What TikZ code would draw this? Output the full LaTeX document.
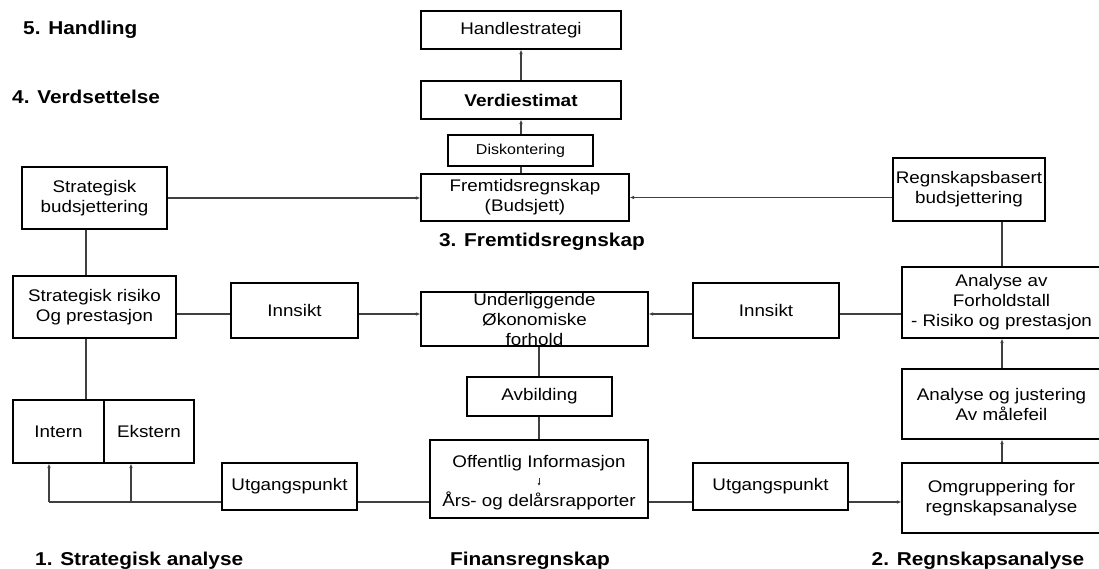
\documentclass[tikz,border=0pt]{standalone}
\usepackage{fontspec}
\setmainfont{Liberation Sans}[FakeStretch=1.12]
\usetikzlibrary{arrows.meta}
\begin{document}
\begin{tikzpicture}[x=1pt,y=-1pt,
  txt/.style={font=\fontsize{16.8}{20}\selectfont},
  box/.style={draw=black, line width=1.1pt, inner sep=0pt, align=center, txt},
  heading/.style={font=\bfseries\fontsize{18.6}{22}\selectfont, inner sep=0pt},
  conn/.style={draw=black!75, line width=1.3pt},
  tip/.style={conn, -{Latex[length=4.5pt,width=3.6pt]}}
]
\useasboundingbox (0,0) rectangle (1099,569);

% guide lines for connector rows and columns
\coordinate (xL) at (86,0);
\coordinate (xM) at (521,0);
\coordinate (xU) at (539,0);
\coordinate (xR) at (1002,0);
\coordinate (y314) at (0,314);
\coordinate (y502) at (0,502);

% phase headings
\node[heading, anchor=base west] (h5) at (23,34.5) {5. Handling};
\node[heading, anchor=base west] (h4) at (12,104) {4. Verdsettelse};
\node[heading, anchor=base] (h3) at (542,246.5) {3. Fremtidsregnskap};
\node[heading, anchor=base west] (h1) at (35,565) {1. Strategisk analyse};
\node[heading, anchor=base] (hf) at (530,565) {Finansregnskap};
\node[heading, anchor=base] (h2) at (978,565) {2. Regnskapsanalyse};

% valuation column
\node[box, minimum width=200, minimum height=38] (hand) at (521,30) {Handlestrategi};
\node[box, minimum width=200, minimum height=38, font=\bfseries\fontsize{17}{20}\selectfont] (verdi) at (521,100) {Verdiestimat};
\node[box, minimum width=145, minimum height=31, font=\fontsize{14.3}{17}\selectfont] (disk) at (520.5,150.5) {Diskontering};
\node[box, minimum width=208, minimum height=47] (frem) at (525,197.5) {Fremtidsregnskap\\(Budsjett)};

% strategic side
\node[box, minimum width=145, minimum height=62] (sbud) at (94.5,198) {Strategisk\\budsjettering};
\node[box, minimum width=163, minimum height=62] (srisk) at (94.5,307) {Strategisk risiko\\Og prestasjon};
\node[box, minimum width=127, minimum height=55] (innL) at (294.5,310.5) {Innsikt};
\node[box, minimum width=91, minimum height=63] (intern) at (58.5,431.5) {Intern};
\node[box, minimum width=90, minimum height=63] (ekstern) at (149,431.5) {Ekstern};
\node[box, minimum width=135, minimum height=47] (utgL) at (289.5,486.5) {Utgangspunkt};

% centre column
\node[box, minimum width=227, minimum height=54,
  label={[txt, align=center, inner sep=0pt]center:Underliggende\\Økonomiske\\forhold}] (und) at (534.5,319) {};
\node[box, minimum width=145, minimum height=39] (avb) at (539.5,396.5) {Avbilding};
\node[box, minimum width=218, minimum height=78,
  label={[txt, align=center, inner sep=0pt, yshift=-3.5pt]center:Offentlig Informasjon\\[19pt]Års- og delårsrapporter}] (off) at (539,479) {};

% accounting side
\node[box, minimum width=152, minimum height=63] (regb) at (969,189.5) {Regnskapsbasert\\budsjettering};
\node[box, minimum width=146, minimum height=55] (innR) at (766,310.5) {Innsikt};
\node[box, minimum width=199, minimum height=71] (aforh) at (1001.5,302.5) {Analyse av\\Forholdstall\\- Risiko og prestasjon};
\node[box, minimum width=199, minimum height=70] (ajust) at (1001.5,404) {Analyse og justering\\Av målefeil};
\node[box, minimum width=155, minimum height=47] (utgR) at (770.5,486.5) {Utgangspunkt};
\node[box, minimum width=199, minimum height=70] (omgr) at (1001.5,498) {Omgruppering for\\regnskapsanalyse};

% valuation chain
\draw[conn] (xM |- frem.north) -- (xM |- disk.south);
\draw[tip] (xM |- disk.north) -- (xM |- verdi.south);
\draw[tip] (xM |- verdi.north) -- (xM |- hand.south);

% budgeting into the forecast
\draw[tip] (sbud.east) -- (sbud.east -| frem.west);
\draw[tip] (regb.west |- frem.east) -- (frem.east);

% strategic analysis chain
\draw[conn] (xL |- sbud.south) -- (xL |- srisk.north);
\draw[conn] (xL |- srisk.south) -- (xL |- intern.north);
\draw[conn] (srisk.east |- y314) -- (innL.west |- y314);
\draw[tip] (innL.east |- y314) -- (und.west |- y314);

% accounting analysis chain
\draw[conn] (xR |- regb.south) -- (xR |- aforh.north);
\draw[conn] (aforh.west |- y314) -- (innR.east |- y314);
\draw[tip] (innR.west |- y314) -- (und.east |- y314);
\draw[tip] (xR |- ajust.north) -- (xR |- aforh.south);
\draw[tip] (xR |- omgr.north) -- (xR |- ajust.south);

% representation of the economy in public information
\draw[conn] (xU |- und.south) -- (xU |- avb.north);
\draw[conn] (xU |- avb.south) -- (xU |- off.north);
\coordinate (pTop) at (539,478);
\coordinate (pBot) at (539,486);
\draw[draw=black!80, line width=0.7pt, -{Latex[length=3pt,width=3pt]}] (pTop) -- (pBot);

% starting points
\coordinate (kIn) at (49,502);
\coordinate (kEx) at (131,502);
\draw[conn] (off.west |- y502) -- (utgL.east |- y502);
\draw[conn] (utgL.west |- y502) -- (kIn);
\draw[tip] (kIn) -- (kIn |- intern.south);
\draw[tip] (kEx) -- (kEx |- ekstern.south);
\draw[conn] (off.east |- y502) -- (utgR.west |- y502);
\draw[tip] (utgR.east |- y502) -- (omgr.west |- y502);
\end{tikzpicture}
\end{document}
